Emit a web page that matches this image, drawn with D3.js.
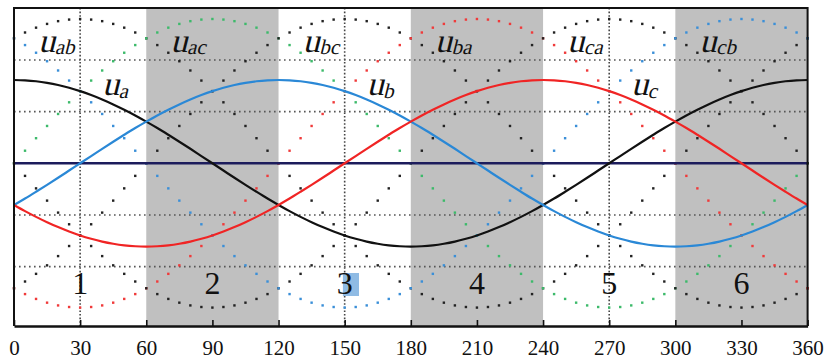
<!DOCTYPE html>
<html>
<head>
<meta charset="utf-8">
<script src="https://cdn.jsdelivr.net/npm/d3@7"></script>
<style>
  html, body { margin: 0; padding: 0; background: #fff; }
  svg { display: block; }
</style>
</head>
<body>
<div id="chart"></div>
<script>
// angle samples, every 5 degrees
var angles = d3.range(0, 361, 5);

// phase voltages (per unit)
var ua = [1.000,0.996,0.985,0.966,0.940,0.906,0.866,0.819,0.766,0.707,0.643,0.574,0.500,0.423,0.342,0.259,0.174,0.087,0.000,
  -0.087,-0.174,-0.259,-0.342,-0.423,-0.500,-0.574,-0.643,-0.707,-0.766,-0.819,-0.866,-0.906,-0.940,-0.966,-0.985,-0.996,-1.000,
  -0.996,-0.985,-0.966,-0.940,-0.906,-0.866,-0.819,-0.766,-0.707,-0.643,-0.574,-0.500,-0.423,-0.342,-0.259,-0.174,-0.087,0.000,
  0.087,0.174,0.259,0.342,0.423,0.500,0.574,0.643,0.707,0.766,0.819,0.866,0.906,0.940,0.966,0.985,0.996,1.000];
var ub = [-0.500,-0.423,-0.342,-0.259,-0.174,-0.087,0.000,0.087,0.174,0.259,0.342,0.423,0.500,0.574,0.643,0.707,0.766,0.819,0.866,
  0.906,0.940,0.966,0.985,0.996,1.000,0.996,0.985,0.966,0.940,0.906,0.866,0.819,0.766,0.707,0.643,0.574,0.500,0.423,0.342,0.259,
  0.174,0.087,0.000,-0.087,-0.174,-0.259,-0.342,-0.423,-0.500,-0.574,-0.643,-0.707,-0.766,-0.819,-0.866,-0.906,-0.940,-0.966,
  -0.985,-0.996,-1.000,-0.996,-0.985,-0.966,-0.940,-0.906,-0.866,-0.819,-0.766,-0.707,-0.643,-0.574,-0.500];
var uc = [-0.500,-0.574,-0.643,-0.707,-0.766,-0.819,-0.866,-0.906,-0.940,-0.966,-0.985,-0.996,-1.000,-0.996,-0.985,-0.966,-0.940,
  -0.906,-0.866,-0.819,-0.766,-0.707,-0.643,-0.574,-0.500,-0.423,-0.342,-0.259,-0.174,-0.087,0.000,0.087,0.174,0.259,0.342,0.423,
  0.500,0.574,0.643,0.707,0.766,0.819,0.866,0.906,0.940,0.966,0.985,0.996,1.000,0.996,0.985,0.966,0.940,0.906,0.866,0.819,0.766,
  0.707,0.643,0.574,0.500,0.423,0.342,0.259,0.174,0.087,0.000,-0.087,-0.174,-0.259,-0.342,-0.423,-0.500];

var xTicks = [0, 30, 60, 90, 120, 150, 180, 210, 240, 270, 300, 330, 360];
var gridLevels = [-1.24, -0.62, 0.62, 1.24];
var shadedSectors = [[60, 120], [180, 240], [300, 360]];
var sectorNames = ["1", "2", "3", "4", "5", "6"];
var lineLabels = ["ab", "ac", "bc", "ba", "ca", "cb"];
var phaseLabels = ["a", "b", "c"];

var width = 828, height = 362;

var svg = d3.select("#chart").append("svg")
  .attr("width", width)
  .attr("height", height);

var x = d3.scaleLinear().domain([0, 360]).range([14, 807.6]);
var y = d3.scaleLinear().domain([-1.953, 1.864]).range([326, 8]);

var serif = "Liberation Serif";

// vertical grid (hidden under the grey sectors)
svg.append("g")
  .selectAll("line")
  .data(xTicks.filter(function (d) { return d % 60 === 30; }))
  .enter().append("line")
  .attr("x1", function (d) { return x(d); })
  .attr("x2", function (d) { return x(d); })
  .attr("y1", y.range()[1])
  .attr("y2", y.range()[0])
  .attr("stroke", "#444")
  .attr("stroke-width", 1.6)
  .attr("stroke-dasharray", "1.6,2");

// shaded sectors
svg.append("g")
  .selectAll("rect")
  .data(shadedSectors)
  .enter().append("rect")
  .attr("x", function (d) { return x(d[0]); })
  .attr("width", function (d) { return x(d[1]) - x(d[0]); })
  .attr("y", y.range()[1])
  .attr("height", y.range()[0] - y.range()[1])
  .attr("fill", "#c0c0c0");

// horizontal grid
svg.append("g")
  .selectAll("line")
  .data(gridLevels)
  .enter().append("line")
  .attr("x1", x(0))
  .attr("x2", x(360))
  .attr("y1", function (d) { return y(d); })
  .attr("y2", function (d) { return y(d); })
  .attr("stroke", "#555")
  .attr("stroke-width", 1.6)
  .attr("stroke-dasharray", "1.6,3.4");

// line voltages as dotted markers
var diff = function (p, q) { return p.map(function (v, i) { return v - q[i]; }); };
var lineVoltages = [
  { values: diff(ua, uc), color: "#222" },
  { values: diff(ub, uc), color: "#3cba6a" },
  { values: diff(ub, ua), color: "#222" },
  { values: diff(uc, ua), color: "#f03a3a" },
  { values: diff(uc, ub), color: "#222" },
  { values: diff(ua, ub), color: "#3a8fd8" }
];

var dots = svg.append("g");
lineVoltages.forEach(function (s) {
  dots.append("g")
    .selectAll("rect")
    .data(s.values)
    .enter().append("rect")
    .attr("x", function (d, i) { return x(angles[i]) - 1.2; })
    .attr("y", function (d) { return y(d) - 1.2; })
    .attr("width", 2.4)
    .attr("height", 2.4)
    .attr("fill", s.color);
});

// zero line
svg.append("line")
  .attr("x1", x(0)).attr("x2", x(360))
  .attr("y1", y(0)).attr("y2", y(0))
  .attr("stroke", "#1c1c5c")
  .attr("stroke-width", 2.6);

// phase voltages
var line = d3.line()
  .x(function (d, i) { return x(angles[i]); })
  .y(function (d) { return y(d); })
  .curve(d3.curveCatmullRom);

[[ua, "#111"], [ub, "#2a88d6"], [uc, "#f02424"]].forEach(function (p) {
  svg.append("path")
    .attr("d", line(p[0]))
    .attr("fill", "none")
    .attr("stroke", p[1])
    .attr("stroke-width", 2.2);
});

// frame
svg.append("path")
  .attr("d", "M" + x(0) + "," + y.range()[0] + "V" + y.range()[1] + "H" + x(360) + "V" + y.range()[0])
  .attr("fill", "none")
  .attr("stroke", "#111")
  .attr("stroke-width", 2);

// bottom axis
var axis = svg.append("g")
  .attr("transform", "translate(0," + y.range()[0] + ")")
  .call(d3.axisBottom(x).tickValues(xTicks).tickSizeInner(-6).tickSizeOuter(0).tickPadding(14));
axis.attr("font-family", serif).attr("font-size", 21);
axis.select(".domain").attr("stroke", "#111").attr("stroke-width", 2.6);
axis.selectAll(".tick line").attr("stroke", "#111").attr("stroke-width", 1.6);
axis.selectAll(".tick text").attr("fill", "#111");

// highlight behind the sector 3 label
svg.append("rect")
  .attr("x", x(149.2))
  .attr("width", x(156.5) - x(149.2))
  .attr("y", 273)
  .attr("height", 23)
  .attr("fill", "#8fbbe4");

// sector numbers
svg.append("g")
  .attr("font-family", serif)
  .attr("font-size", 32)
  .selectAll("text")
  .data(sectorNames)
  .enter().append("text")
  .attr("x", function (d, i) { return x(30 + 60 * i); })
  .attr("y", y(-1.57))
  .attr("text-anchor", "middle")
  .attr("fill", "#111")
  .text(function (d) { return d; });

// u labels (upright serif, slanted by hand: no serif italic installed)
function uLabel(sub, angle, level, dy) {
  var t = svg.append("text")
    .attr("transform", "translate(" + x(angle) + "," + y(level) + ") skewX(-14)")
    .attr("fill", "#111")
    .attr("font-family", serif);
  t.append("tspan").attr("font-size", 34).text("u");
  t.append("tspan").attr("font-size", 21).attr("dy", dy).text(sub);
}
lineLabels.forEach(function (d, i) { uLabel(d, 11 + 60 * i, 1.34, 2); });
phaseLabels.forEach(function (d, i) { uLabel(d, 40 + 120 * i, 0.82, 3); });
</script>
</body>
</html>
